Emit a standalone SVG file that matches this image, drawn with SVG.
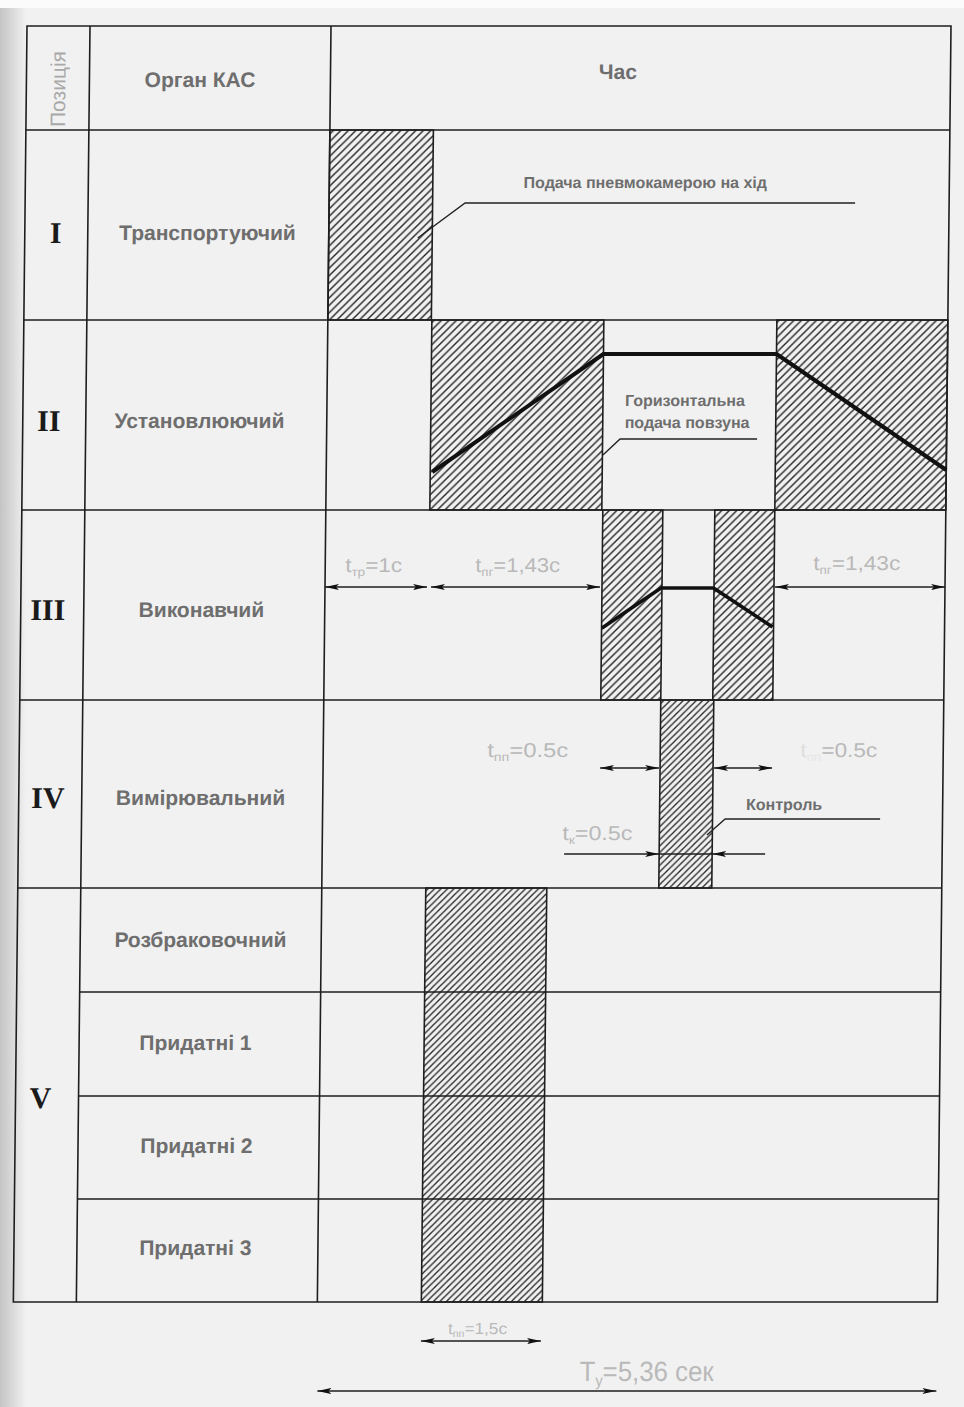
<svg xmlns="http://www.w3.org/2000/svg" width="964" height="1407" viewBox="0 0 964 1407">
<defs>
<style>
.grid{stroke:#1e1e1e;stroke-width:1.6;fill:none}
.hb{fill:url(#hatch);stroke:#1e1e1e;stroke-width:1.6}
.hv{fill:url(#hatch2);stroke:#1e1e1e;stroke-width:1.6}
.lbl{font-family:"Liberation Sans",Arial,sans-serif;font-weight:bold;font-size:21px;fill:#6e6e6e;text-anchor:middle}
.note{font-family:"Liberation Sans",Arial,sans-serif;font-weight:bold;font-size:16px;fill:#6e6e6e}
.rom{font-family:"Liberation Serif","Times New Roman",serif;font-weight:bold;font-size:30px;fill:#1a1a1a;text-anchor:middle}
.pos{font-family:"Liberation Sans",Arial,sans-serif;font-size:21px;fill:#a9a9a9;text-anchor:middle}
.dim{font-family:"Liberation Sans",Arial,sans-serif;font-size:20px;fill:#b9b9b9}
.sub{font-size:12px}
.thick{stroke:#111;stroke-width:4;fill:none;stroke-linejoin:round}
.dl{stroke:#1e1e1e;stroke-width:1.6;fill:none}
.arr{marker-start:url(#ah);marker-end:url(#ah)}
.one{marker-end:url(#ah)}
.lead{stroke:#222;stroke-width:1.4;fill:none}
</style>
<pattern id="hatch" patternUnits="userSpaceOnUse" width="7.5" height="7.5">
<path d="M-1,1 L1,-1 M0,7.5 L7.5,0 M6.5,8.5 L8.5,6.5" stroke="#222" stroke-width="1.4"/>
</pattern>
<pattern id="hatch2" patternUnits="userSpaceOnUse" width="6.5" height="6.5">
<path d="M-1,1 L1,-1 M0,6.5 L6.5,0 M5.5,7.5 L7.5,5.5" stroke="#222" stroke-width="1.3"/>
</pattern>
<marker id="ah" viewBox="0 0 14 6" refX="14" refY="3" markerWidth="14" markerHeight="6" markerUnits="userSpaceOnUse" orient="auto-start-reverse">
<path d="M0,0 L14,3 L0,6 L3,3 z" fill="#111"/>
</marker>
<linearGradient id="edge" x1="0" y1="0" x2="1" y2="0">
<stop offset="0" stop-color="#c4c4c4"/>
<stop offset="1" stop-color="#f1f1f1"/>
</linearGradient>
</defs>
<rect width="964" height="1407" fill="#f1f1f1"/>
<rect x="0" y="0" width="964" height="8" fill="#fbfbfb"/>
<rect x="0" y="8" width="26" height="1399" fill="url(#edge)"/>
<g transform="matrix(1,0,-0.0107,1,0.278,0)">
<g id="hatches">
<rect class="hb" x="331" y="130" width="103.5" height="190"/>
<rect class="hb" x="435" y="320" width="172" height="190"/>
<rect class="hb" x="780" y="320" width="171" height="190"/>
<rect class="hb" x="608" y="510" width="60" height="190"/>
<rect class="hb" x="720" y="510" width="60" height="190"/>
<rect class="hv" x="668" y="700" width="53" height="188"/>
<rect class="hv" x="435" y="888" width="121" height="414"/>
</g>
<g id="table-grid">
<rect class="grid" x="27" y="26" width="924" height="1276"/>
<path class="grid" d="M27,130 H951 M27,320 H951 M27,510 H951 M27,700 H951 M27,888 H951 M90,992 H951 M90,1096 H951 M90,1199 H951 M90,26 V1302 M331,26 V1302"/>
</g>
<g id="header">
<text class="pos" transform="translate(66,89) rotate(-90)">Позиція</text>
<text class="lbl" x="200.6" y="87">Орган КАС</text>
<text class="lbl" x="618.5" y="79">Час</text>
</g>
<g id="row-I">
<text class="rom" x="58" y="243">I</text>
<text class="lbl" x="209.7" y="240">Транспортуючий</text>
<text class="note" x="647" y="188" text-anchor="middle">Подача пневмокамерою на хід</text>
</g>
<g id="row-II">
<text class="rom" x="53" y="431">II</text>
<text class="lbl" x="203.7" y="428">Установлюючий</text>
<polyline class="thick" points="437,472 607,354 780,354 951,470"/>
<text class="note" x="629" y="406">Горизонтальна</text>
<text class="note" x="629" y="428">подача повзуна</text>
</g>
<g id="row-III">
<text class="rom" x="54" y="620">III</text>
<text class="lbl" x="207.7" y="617">Виконавчий</text>
<polyline class="thick" style="stroke-width:3.5" points="608.5,628 667,588 719.5,588 779,627"/>
<text class="dim" x="351" y="572" textLength="57" lengthAdjust="spacingAndGlyphs">t<tspan class="sub" dy="4">тр</tspan><tspan dy="-4">=1с</tspan></text>
<text class="dim" x="481" y="572" textLength="85" lengthAdjust="spacingAndGlyphs">t<tspan class="sub" dy="4">пг</tspan><tspan dy="-4">=1,43с</tspan></text>
<text class="dim" x="819" y="570" textLength="87" lengthAdjust="spacingAndGlyphs">t<tspan class="sub" dy="4">пг</tspan><tspan dy="-4">=1,43с</tspan></text>
</g>
<g id="row-IV">
<text class="rom" x="56" y="808">IV</text>
<text class="lbl" x="208.8" y="805">Вимірювальний</text>
<text class="note" x="754.4" y="810">Контроль</text>
<text class="dim" x="495" y="757" textLength="81" lengthAdjust="spacingAndGlyphs">t<tspan class="sub" dy="4">пп</tspan><tspan dy="-4">=0.5с</tspan></text>
<text class="dim" x="808" y="757" textLength="77" lengthAdjust="spacingAndGlyphs"><tspan fill="#dedede">t</tspan><tspan class="sub" dy="4" fill="#e6e6e6">пп</tspan><tspan dy="-4">=0.5с</tspan></text>
<text class="dim" x="571" y="840" textLength="70" lengthAdjust="spacingAndGlyphs">t<tspan class="sub" dy="4">к</tspan><tspan dy="-4">=0.5с</tspan></text>
</g>
<g id="row-V">
<text class="rom" x="52" y="1108">V</text>
<text class="lbl" x="210.3" y="947">Розбраковочний</text>
<text class="lbl" x="206.4" y="1050">Придатні 1</text>
<text class="lbl" x="208.5" y="1153">Придатні 2</text>
<text class="lbl" x="208.5" y="1255">Придатні 3</text>
</g>
<g id="totals">
<text class="dim" x="462" y="1334" style="font-size:16px" textLength="59" lengthAdjust="spacingAndGlyphs">t<tspan class="sub" style="font-size:10px" dy="3">пп</tspan><tspan dy="-3">=1,5с</tspan></text>
<text class="dim" x="594" y="1381" style="font-size:28px" textLength="134" lengthAdjust="spacingAndGlyphs">T<tspan style="font-size:16px" dy="5">у</tspan><tspan dy="-5">=5,36  сек</tspan></text>
</g>
<g id="connectors">
<polyline class="lead" points="420,238 467,203 857,203"/>
<polyline class="lead" points="607.5,455 624.5,439 761.5,439"/>
<polyline class="lead" points="715.6,835 733.6,819 888.6,819"/>
<path class="dl arr" d="M331,587 H433"/>
<path class="dl arr" d="M437,587 H606"/>
<path class="dl arr" d="M781,587 H951"/>
<path class="dl arr" d="M608,768 H667"/>
<path class="dl arr" d="M722,768 H780"/>
<path class="dl one" d="M573,854 H668"/>
<path class="dl one" d="M774,854 H721"/>
<path class="dl" d="M668,854 H721"/>
<path class="dl arr" d="M435,1341 H555"/>
<path class="dl arr" d="M332,1391 H951"/>
</g>
</g>
</svg>
